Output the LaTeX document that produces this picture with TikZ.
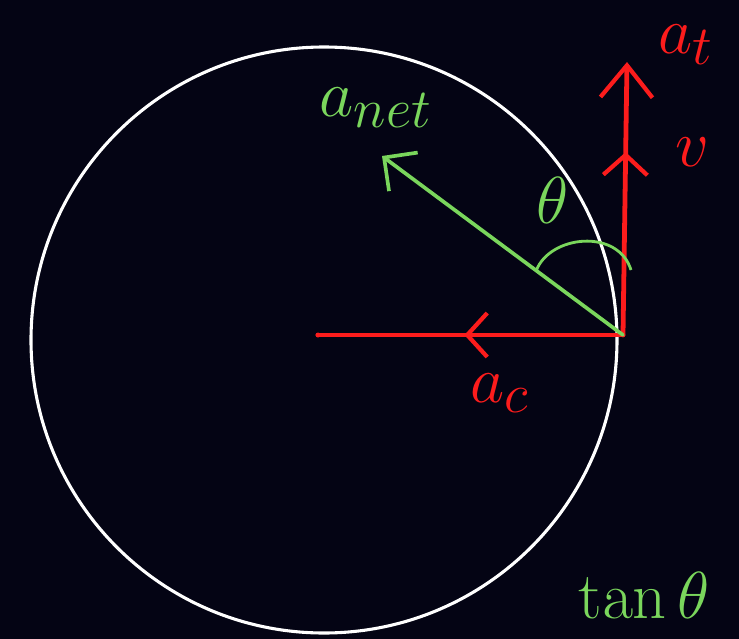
\documentclass[tikz,border=0pt]{standalone}
\usepackage{amsmath}
\usetikzlibrary{arrows.meta,decorations.markings,calc}

\definecolor{board}{RGB}{4,4,20}
\definecolor{chalkred}{RGB}{252,28,28}
\definecolor{chalkgreen}{RGB}{122,214,92}

\tikzset{
  vec/.style={line width=3.4pt,draw=chalkred,line cap=round},
  netvec/.style={line width=2.6pt,draw=chalkgreen,line cap=round},
  midarrow/.style={postaction={decorate},decoration={markings,
    mark=at position #1 with {\arrow{Straight Barb[length=5mm,width=11mm,line width=3pt]}}}},
  lbl/.style={font=\Huge,scale=1.9,inner sep=0pt}
}

\begin{document}
\begin{tikzpicture}[x=0.025cm,y=0.025cm]
\fill[board] (0,0) rectangle (739,-639);
\useasboundingbox (0,0) rectangle (739,-639);

% the circle
\draw[white,line width=2.2pt] (324,-340) circle [radius=293];

% points
\coordinate (O) at (318,-335);
\coordinate (P) at (623,-335);
\coordinate (T) at (627,-62);
\coordinate (N) at (382,-156);

\fill[chalkred] (O) circle [radius=2.5];

% vectors
\draw[vec,midarrow=0.67,-{Straight Barb[length=8mm,width=13mm,line width=3pt]}] (P) -- (T);
\draw[vec,midarrow=0.52] (P) -- (O);
\draw[netvec,-{Straight Barb[length=6mm,width=12mm,line width=2.6pt]}] (P) -- (N);

% angle between a_net and the tangent
\draw[chalkgreen,line width=2pt] ($(P)!0.36!(N)$) .. controls (550,-235) and (618,-228) .. (631,-270);

% labels
\node[lbl,text=chalkgreen] (anet) at (376,-108) {$a_{net}$};
\node[lbl,text=chalkgreen] (th) at (553,-200) {$\theta$};
\node[lbl,text=chalkred,anchor=west] (at) at (658,-45) {$a_t$};
\node[lbl,text=chalkred] (v) at (692,-152) {$v$};
\node[lbl,text=chalkred] (ac) at (500,-393) {$a_c$};
\node[lbl,text=chalkgreen,anchor=base west] (tan) at (578,-618) {$\tan\theta$};
\end{tikzpicture}
\end{document}
